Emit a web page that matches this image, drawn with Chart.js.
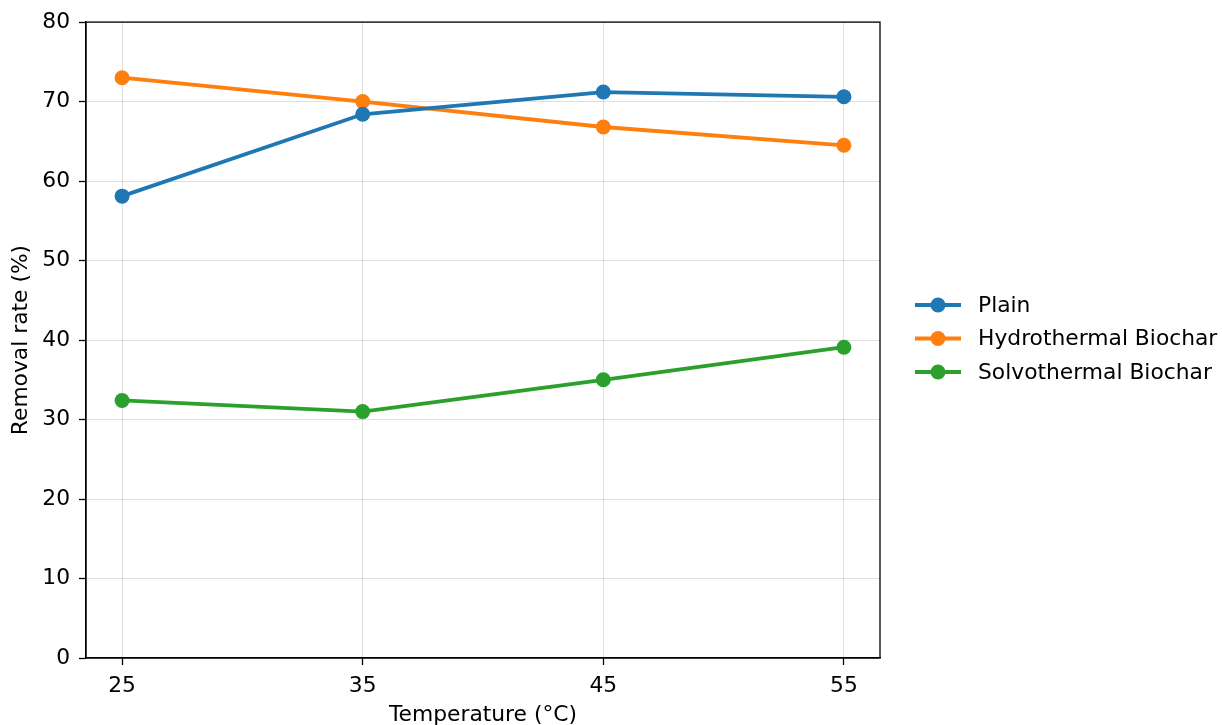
<!DOCTYPE html>
<html><head><meta charset="utf-8">
<script src="https://cdn.jsdelivr.net/npm/chart.js@4"></script>
<style>html,body{margin:0;padding:0;background:#fff}#wrap{width:1222px;height:725px}</style>
</head><body><div id="wrap"><canvas id="c" width="1222" height="725"></canvas></div>
<script>
const temperatures = [25, 35, 45, 55];
const plainValues = [58.1, 68.4, 71.2, 70.6];
const hydroValues = [73.0, 70.0, 66.8, 64.5];
const solvoValues = [32.4, 31.0, 35.0, 39.1];
const seriesNames = ['Plain', 'Hydrothermal Biochar', 'Solvothermal Biochar'];
const seriesColors = ['#1f77b4', '#ff7f0e', '#2ca02c'];
const yTicks = [0, 10, 20, 30, 40, 50, 60, 70, 80];

const FONT = 'DejaVu Sans';
const FS = 21.8;

function pts(vals){ return temperatures.map((t,i)=>({x:t, y:vals[i]})); }
const allVals = [plainValues, hydroValues, solvoValues];

const frame = {
  id:'frame',
  afterDatasetsDraw(chart){
    const {ctx, chartArea:a} = chart;
    ctx.save();
    ctx.strokeStyle='#000'; ctx.lineWidth=1.3;
    ctx.strokeRect(a.left, a.top, a.right-a.left, a.bottom-a.top);
    // legend
    const x0 = a.right + 35, lineLen = 46, rowH = 33.5, yStart = 305;
    ctx.font = FS + 'px "' + FONT + '"';
    ctx.textBaseline='middle'; ctx.textAlign='left';
    seriesNames.forEach((n,i)=>{
      const y = yStart + i*rowH;
      ctx.strokeStyle=seriesColors[i]; ctx.lineWidth=3.8;
      ctx.beginPath(); ctx.moveTo(x0,y); ctx.lineTo(x0+lineLen,y); ctx.stroke();
      ctx.fillStyle=seriesColors[i];
      ctx.beginPath(); ctx.arc(x0+lineLen/2,y,7.5,0,Math.PI*2); ctx.fill();
      ctx.fillStyle='#000';
      ctx.fillText(n, x0+lineLen+17, y+1);
    });
    ctx.restore();
  }
};

new Chart(document.getElementById('c'), {
  type:'line',
  data:{
    datasets: seriesNames.map((n,i)=>({
      label:n, data:pts(allVals[i]),
      borderColor:seriesColors[i], backgroundColor:seriesColors[i],
      borderWidth:3.8, pointRadius:7.5, pointHoverRadius:7.5, pointBorderWidth:0,
      tension:0, fill:false
    }))
  },
  options:{
    responsive:false, animation:false,
    layout:{padding:{left:0, right:342, top:22, bottom:0}},
    plugins:{legend:{display:false}, tooltip:{enabled:false}},
    scales:{
      x:{
        type:'linear', min:23.5, max:56.5,
        afterBuildTicks(s){ s.ticks = temperatures.map(v=>({value:v})); },
        afterFit(s){ s.height = 67; },
        ticks:{font:{family:FONT,size:FS}, color:'#000', padding:8, maxRotation:0,
               callback:v=>String(v)},
        grid:{color:'rgba(0,0,0,0.12)', lineWidth:1, tickLength:7, tickColor:'#000', tickWidth:1.3},
        border:{display:true, color:'#000', width:1.3},
        title:{display:true, text:'Temperature (°C)', font:{family:FONT,size:FS}, color:'#000', padding:{top:0,bottom:-3}}
      },
      y:{
        min:0, max:80,
        afterBuildTicks(s){ s.ticks = yTicks.map(v=>({value:v})); },
        afterFit(s){ s.width = 86; },
        ticks:{font:{family:FONT,size:FS}, color:'#000', padding:9},
        grid:{color:'rgba(0,0,0,0.12)', lineWidth:1, tickLength:7, tickColor:'#000', tickWidth:1.3},
        border:{display:true, color:'#000', width:1.3},
        title:{display:true, text:'Removal rate (%)', font:{family:FONT,size:FS}, color:'#000', padding:{top:8,bottom:0}}
      }
    }
  },
  plugins:[frame]
});
</script></body></html>
